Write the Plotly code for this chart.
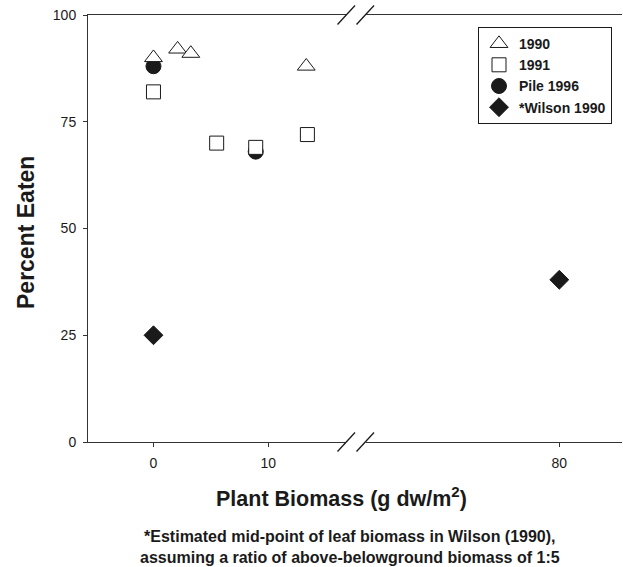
import plotly.graph_objects as go

# ---- data ----
tri_1990_x = [0, 2.1, 3.25, 13.3]
tri_1990_y = [90, 92, 91, 88]
sq_1991_x = [0, 5.5, 8.9, 13.4]
sq_1991_y = [82, 70, 69, 72]
pile_x = [0, 8.9]
pile_y = [88, 68]
wilson_x = [0, 80]
wilson_y = [25, 38]

x_ticks_left = [0, 10]
x_ticks_right = [80]
y_ticks = [0, 25, 50, 75, 100]
BREAK = 40  # values above go on the right-hand segment

FONT = "Arial, Liberation Sans, sans-serif"
INK = "#1a1a1a"
LINE = "#333333"

fig = go.Figure()


def add_series(name, xs, ys, symbol, fill, size, rank):
    left = [(x, y) for x, y in zip(xs, ys) if x <= BREAK]
    right = [(x, y) for x, y in zip(xs, ys) if x > BREAK]
    marker = dict(symbol=symbol, size=size, color=fill, line=dict(color=INK, width=1))
    first = True
    for pts, xa in ((left, "x"), (right, "x2")):
        if not pts:
            continue
        fig.add_trace(go.Scatter(
            x=[p[0] for p in pts], y=[p[1] for p in pts], mode="markers",
            name=name, marker=marker, xaxis=xa, yaxis="y",
            legendgroup=name, showlegend=first, legendrank=rank,
        ))
        first = False


# draw order: circles beneath open symbols
add_series("Pile 1996", pile_x, pile_y, "circle", INK, 15, 3)
add_series("1990", tri_1990_x, tri_1990_y, "triangle-up", "white", 15.5, 1)
add_series("1991", sq_1991_x, sq_1991_y, "square", "white", 14, 2)
add_series("*Wilson 1990", wilson_x, wilson_y, "diamond", INK, 14.5, 4)

ML, MR, MT, MB = 88, 1, 15, 125
W, H = 623, 567
PW, PH = W - ML - MR, H - MT - MB


def px(xp):
    return (xp - ML) / PW


def py(yp):
    return (H - MB - yp) / PH


axis_common = dict(showline=True, linecolor=LINE, linewidth=1, mirror=True,
                   showgrid=False, zeroline=False, ticks="outside", ticklen=4,
                   tickcolor=LINE, tickfont=dict(family=FONT, size=14, color=INK),
                   ticklabelstandoff=4)

fig.update_layout(
    width=W, height=H,
    margin=dict(l=ML, r=MR, t=MT, b=MB),
    paper_bgcolor="white", plot_bgcolor="white",
    xaxis=dict(domain=[0, px(346)], range=[-5.7, 16.76], tickvals=x_ticks_left,
               anchor="y", **axis_common),
    xaxis2=dict(domain=[px(366), 1], range=[63.19, 85.45], tickvals=x_ticks_right,
                anchor="y", **axis_common),
    yaxis=dict(domain=[0, 1], range=[0, 100], tickvals=y_ticks, anchor="x",
               **{k: v for k, v in axis_common.items() if k != "mirror"}),
    legend=dict(x=px(612), y=py(27), xanchor="right", yanchor="top",
                bgcolor="white", bordercolor=INK, borderwidth=1,
                font=dict(family=FONT, size=14, color=INK, weight="bold"),
                tracegroupgap=0),
    showlegend=True,
)

# axis-break slashes
shapes = []
for axis_y in (15, 442):
    for x0 in (337.5, 356.5):
        shapes.append(dict(type="line", xref="paper", yref="paper",
                           x0=px(x0), y0=py(axis_y + 9.5), x1=px(x0 + 17.5), y1=py(axis_y - 9.5),
                           line=dict(color=INK, width=1.3)))
fig.update_layout(shapes=shapes)

fig.add_annotation(text="Percent Eaten", textangle=-90, xref="paper", yref="paper",
                   x=px(26), y=py(233), xanchor="center", yanchor="middle", showarrow=False,
                   font=dict(family=FONT, size=23, color=INK, weight="bold"))
fig.add_annotation(text="Plant Biomass (g dw/m<sup>2</sup>)", xref="paper", yref="paper",
                   x=px(341), y=py(497), xanchor="center", yanchor="middle", showarrow=False,
                   font=dict(family=FONT, size=21.5, color=INK, weight="bold"))
fig.add_annotation(text="*Estimated mid-point of leaf biomass in Wilson (1990),<br>"
                        "assuming a ratio of above-belowground biomass of 1:5",
                   xref="paper", yref="paper", x=px(350), y=py(547), xanchor="center",
                   yanchor="middle", showarrow=False, align="center",
                   font=dict(family=FONT, size=16, color=INK, weight="bold"))

fig.write_html("out.html", config={"displayModeBar": False},
               post_script="document.body.style.margin='0';")
